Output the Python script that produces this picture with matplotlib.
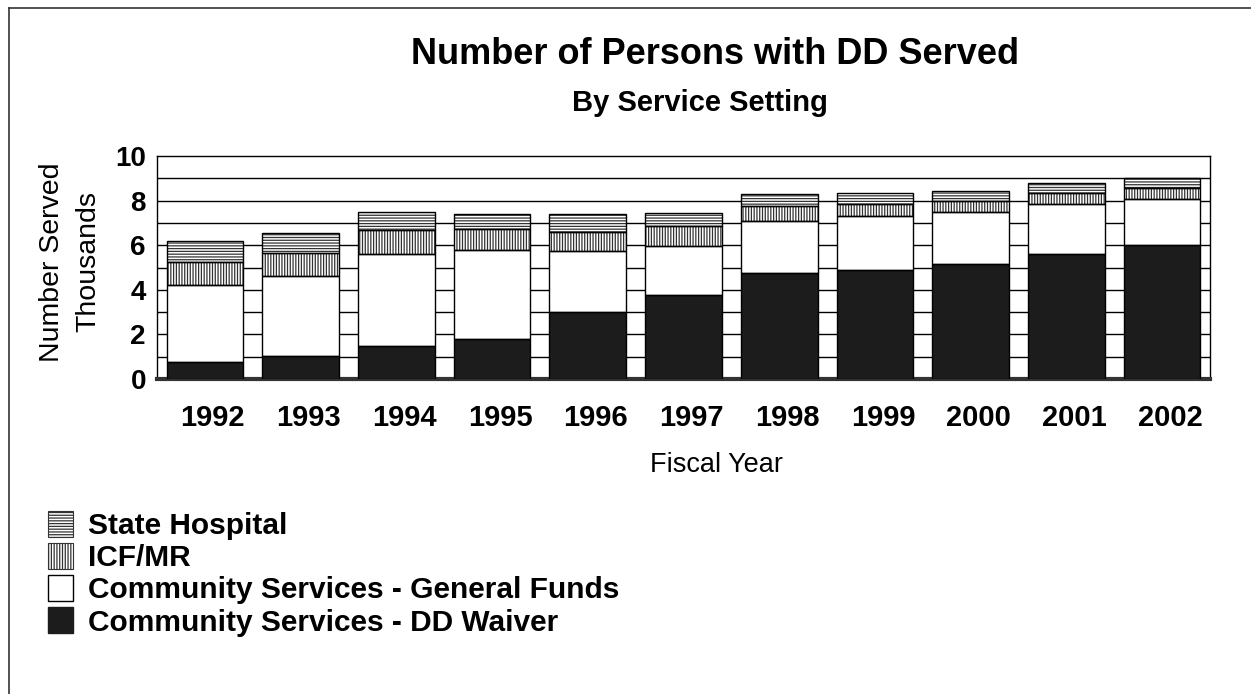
import matplotlib
matplotlib.use("Agg")
import matplotlib.pyplot as plt
from matplotlib.patches import Patch
from matplotlib.lines import Line2D
import matplotlib.transforms as mtransforms
import numpy as np

plt.rcParams['font.family'] = ['Liberation Sans', 'DejaVu Sans']
plt.rcParams['hatch.linewidth'] = 0.9

years = ["1992", "1993", "1994", "1995", "1996", "1997", "1998", "1999", "2000", "2001", "2002"]
dd_waiver = [0.76, 1.01, 1.46, 1.78, 3.01, 3.75, 4.74, 4.89, 5.16, 5.59, 6.01]
general_funds = [3.45, 3.62, 4.15, 4.01, 2.75, 2.23, 2.35, 2.44, 2.35, 2.27, 2.08]
icf_mr = [1.02, 1.04, 1.05, 0.93, 0.85, 0.89, 0.68, 0.52, 0.49, 0.48, 0.48]
state_hospital = [0.97, 0.87, 0.85, 0.69, 0.79, 0.57, 0.53, 0.49, 0.41, 0.45, 0.45]
y_ticks = [0, 2, 4, 6, 8, 10]

series = [
    ("Community Services - DD Waiver", dd_waiver, "#1c1c1c", None),
    ("Community Services - General Funds", general_funds, "white", None),
    ("ICF/MR", icf_mr, "white", "||||||"),
    ("State Hospital", state_hospital, "white", "------"),
]

W, H = 1251, 694
fig = plt.figure(figsize=(W / 100, H / 100), dpi=100)
ax = fig.add_axes([157 / W, 1 - 379 / H, (1210 - 157) / W, (379 - 156) / H])

x = np.arange(len(years))
bottom = np.zeros(len(years))
for name, vals, color, hatch in series:
    vals = np.array(vals)
    if hatch:
        ax.bar(x, vals, 0.8, bottom=bottom, color="white", edgecolor="#333333",
               hatch=hatch, linewidth=0, zorder=3)
    else:
        ax.bar(x, vals, 0.8, bottom=bottom, color=color, linewidth=0, zorder=3)
    ax.bar(x, vals, 0.8, bottom=bottom, fill=False, edgecolor="black",
           linewidth=1.0, zorder=4)
    bottom = bottom + vals

ax.set_xlim(-0.5, 10.5)
ax.set_ylim(0, 10)
for g in range(1, 10):
    ax.axhline(g, color="black", linewidth=1.0, zorder=1)
ax.set_yticks(y_ticks)
ax.set_yticklabels([str(t) for t in y_ticks], fontsize=20, fontweight="bold")
ax.set_xticks(x)
ax.set_xticklabels(years, fontsize=21, fontweight="bold")
ax.tick_params(axis="both", length=0)
ax.tick_params(axis="x", pad=18)
ax.tick_params(axis="y", pad=8)
shift = mtransforms.ScaledTranslation(8 / 100, 0, fig.dpi_scale_trans)
for lab in ax.get_xticklabels():
    lab.set_transform(lab.get_transform() + shift)
for s in ["left", "right", "top"]:
    ax.spines[s].set_linewidth(1.0)
ax.spines["bottom"].set_linewidth(3.0)
ax.spines["bottom"].set_color("#333333")

fig.text(715 / W, 1 - 55 / H, "Number of Persons with DD Served", fontsize=26,
         fontweight="bold", ha="center", va="center")
fig.text(700 / W, 1 - 103 / H, "By Service Setting", fontsize=21,
         fontweight="bold", ha="center", va="center")
fig.text(70 / W, 1 - 262 / H, "Number Served\nThousands", fontsize=20.5,
         rotation=90, ha="center", va="center", multialignment="center",
         linespacing=1.5)
fig.text(716 / W, 1 - 465 / H, "Fiscal Year", fontsize=19.5, ha="center", va="center")

handles = [
    Patch(facecolor="white", edgecolor="#333333", hatch="------", linewidth=0.8, label="State Hospital"),
    Patch(facecolor="white", edgecolor="#333333", hatch="||||||", linewidth=0.8, label="ICF/MR"),
    Patch(facecolor="white", edgecolor="black", linewidth=1.0, label="Community Services - General Funds"),
    Patch(facecolor="#1c1c1c", edgecolor="#1c1c1c", linewidth=1.0, label="Community Services - DD Waiver"),
]
leg = fig.legend(handles=handles, loc="upper left", bbox_to_anchor=(48 / W, 1 - 511 / H),
                 frameon=False, prop={"size": 21.5, "weight": "bold"},
                 handlelength=0.85, handleheight=0.95, handletextpad=0.5,
                 labelspacing=0.1, borderpad=0, borderaxespad=0)

fig.add_artist(Line2D([9 / W, 1.0], [1 - 8 / H, 1 - 8 / H], color="#333333", linewidth=1.2))
fig.add_artist(Line2D([9 / W, 9 / W], [0, 1 - 8 / H], color="#333333", linewidth=1.2))

fig.savefig("out.png", dpi=100)
